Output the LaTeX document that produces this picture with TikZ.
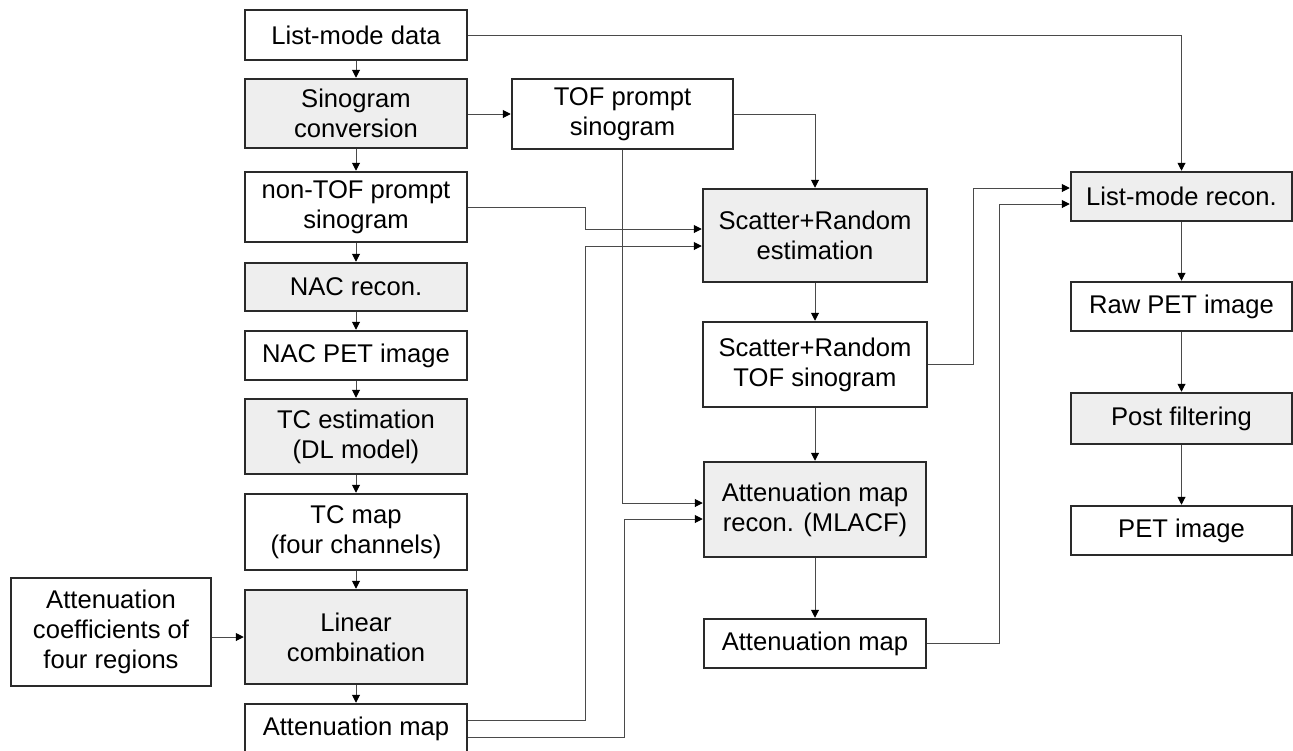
\documentclass[tikz,border=0pt]{standalone}
\usepackage{fontspec}
\setmainfont{Liberation Sans}
\usetikzlibrary{arrows.meta,calc}
\definecolor{boxline}{HTML}{2A2A2A}
\definecolor{boxgrey}{HTML}{EEEEEE}
\definecolor{wire}{HTML}{4A4A4A}
\newcommand{\lblfont}{\fontsize{25.6}{30}\selectfont}
\begin{document}
\begin{tikzpicture}[x=1pt,y=-1pt,
  box/.style={draw=boxline, line width=1.5pt, inner sep=0pt, align=center,
    font=\lblfont, text=black},
  wbox/.style={box, fill=white},
  gbox/.style={box, fill=boxgrey},
  wire/.style={draw=wire, line width=1pt,
    -{Triangle[length=8pt,width=8pt,color=black]}, shorten >=0.5pt},
]
\useasboundingbox (0,0) rectangle (1293,750);

% left column
\node[wbox, minimum width=222pt, minimum height=50pt] (ld)     at (356,35)    {List-mode data};
\node[gbox, minimum width=222pt, minimum height=69pt] (sc)     at (356,113.5) {Sinogram\\conversion};
\node[wbox, minimum width=222pt, minimum height=70pt] (ntof)   at (356,207)   {non-TOF prompt\\sinogram};
\node[gbox, minimum width=222pt, minimum height=48pt] (nac)    at (356,287)   {NAC recon.};
\node[wbox, minimum width=222pt, minimum height=49pt] (nacimg) at (356,355.5) {NAC PET image};
\node[gbox, minimum width=222pt, minimum height=75pt] (tc)     at (356,436.5) {TC estimation\\(DL model)};
\node[wbox, minimum width=222pt, minimum height=76pt] (tcmap)  at (356,532)   {TC map\\(four channels)};
\node[gbox, minimum width=222pt, minimum height=94pt] (lin)    at (356,637)   {Linear\\combination};
\node[wbox, minimum width=222pt, minimum height=50pt] (amapL)  at (356,729)   {Attenuation map};
\node[wbox, minimum width=200pt, minimum height=108pt] (coef)  at (111,632)   {Attenuation\\coefficients of\\four regions};

% middle column
\node[wbox, minimum width=221pt, minimum height=70pt] (tof)   at (622.5,114) {TOF prompt\\sinogram};
\node[gbox, minimum width=224pt, minimum height=93pt] (sre)   at (815,235.5) {Scatter+Random\\estimation};
\node[wbox, minimum width=224pt, minimum height=85pt] (srt)   at (815,364.5) {Scatter+Random\\TOF sinogram};
\node[gbox, minimum width=222pt, minimum height=95pt] (amr)   at (815,509.5) {Attenuation map\\recon. (MLACF)};
\node[wbox, minimum width=222pt, minimum height=49pt] (amapM) at (815,643.5) {Attenuation map};

% right column
\node[gbox, minimum width=221pt, minimum height=49pt] (lr)   at (1181.5,196.5) {List-mode recon.};
\node[wbox, minimum width=221pt, minimum height=49pt] (raw)  at (1181.5,306.5) {Raw PET image};
\node[gbox, minimum width=221pt, minimum height=51pt] (post) at (1181.5,418.5) {Post filtering};
\node[wbox, minimum width=221pt, minimum height=49pt] (pet)  at (1181.5,530.5) {PET image};

% left column flow
\foreach \a/\b in {ld/sc, sc/ntof, ntof/nac, nac/nacimg, nacimg/tc, tc/tcmap, tcmap/lin, lin/amapL}
  \draw[wire] (\a.south) -- (\b.north);
\draw[wire] (coef.east |- lin.west) -- (lin.west);

% middle column flow
\draw[wire] (sc.east |- tof.west) -- (tof.west);
\draw[wire] (tof.east) -| (sre.north);
\draw[wire] (sre.south) -- (srt.north);
\draw[wire] (srt.south) -- (amr.north);
\draw[wire] (amr.south) -- (amapM.north);

% inputs of the scatter and random estimation
\coordinate (sreA) at ([yshift=6.5pt]sre.west);
\coordinate (sreB) at ([yshift=-10.5pt]sre.west);
\coordinate (jx) at (585,0);
\draw[wire] (ntof.east) -- (ntof.east -| jx) |- (sreA);
\coordinate (amapLa) at ([yshift=9pt]amapL.east);
\coordinate (amapLb) at ([yshift=-8pt]amapL.east);
\draw[wire] (amapLa) -- (amapLa -| jx) |- (sreB);

% inputs of the attenuation map reconstruction
\coordinate (amrA) at ([yshift=6.5pt]amr.west);
\coordinate (amrB) at ([yshift=-9.5pt]amr.west);
\coordinate (kx) at (624.5,0);
\draw[wire] (tof.south) |- (amrA);
\draw[wire] (amapLb) -- (amapLb -| kx) |- (amrB);

% inputs of the list-mode reconstruction
\draw[wire] (ld.east) -| (lr.north);
\coordinate (lrA) at ([yshift=8.5pt]lr.west);
\coordinate (lrB) at ([yshift=-7.5pt]lr.west);
\coordinate (mx) at (973,0);
\coordinate (nx) at (999,0);
\draw[wire] (srt.east) -- (srt.east -| mx) |- (lrA);
\draw[wire] (amapM.east) -- (amapM.east -| nx) |- (lrB);

% right column flow
\draw[wire] (lr.south) -- (raw.north);
\draw[wire] (raw.south) -- (post.north);
\draw[wire] (post.south) -- (pet.north);
\end{tikzpicture}
\end{document}
